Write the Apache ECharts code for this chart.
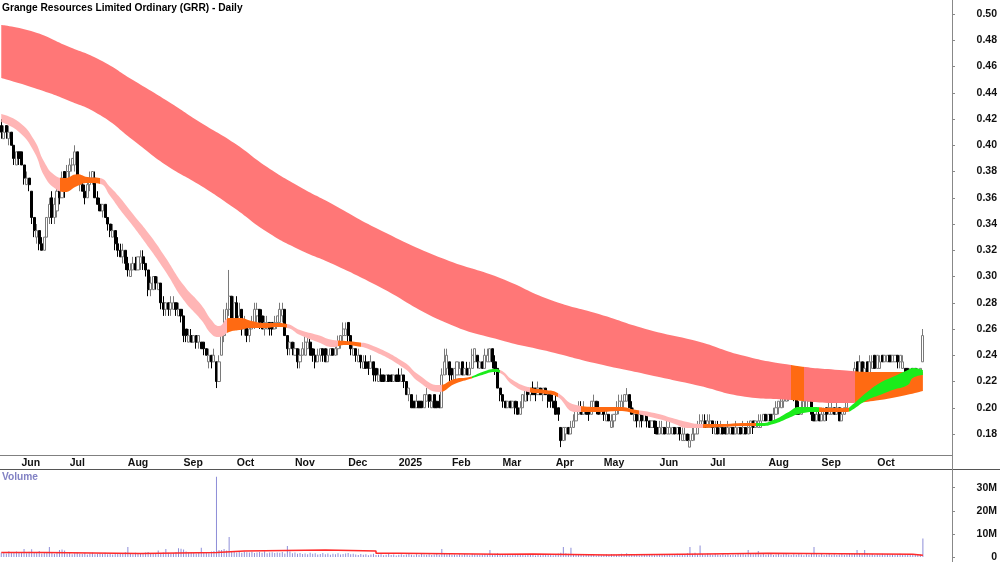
<!DOCTYPE html>
<html>
<head>
<meta charset="utf-8">
<title>Grange Resources Limited Ordinary (GRR) - Daily</title>
<script src="https://cdn.jsdelivr.net/npm/echarts@6/dist/echarts.min.js"></script>
<style>
  html, body { margin: 0; padding: 0; background: #fff; }
  #chart { width: 1000px; height: 562px; }
</style>
</head>
<body>
<div id="chart"></div>
<script>
// daily bars, prices in tenths of a cent (415 -> 0.415)
const opens = [
  415,405,415,405,410,400,385,395,395,385, 370,375,365,345,330,335,325,320,330,345,
  360,345,350,370,360,380,370,380,385,385, 395,370,370,365,360,370,375,375,360,355,
  350,355,345,340,330,335,325,320,315,320, 310,300,305,310,305,310,315,310,305,290,
  290,300,290,295,280,275,280,275,275,280, 270,275,270,260,250,255,250,255,250,250,
  250,245,235,240,235,235,220,240,255,265, 275,285,265,280,265,275,260,265,255,260,
  265,270,275,270,260,260,265,265,260,265, 265,270,275,255,245,250,240,245,235,240,
  240,245,250,245,240,235,240,245,245,235, 240,245,240,245,250,255,255,265,255,240,
  245,235,240,230,235,235,230,235,230,220, 225,225,220,225,225,220,225,225,220,225,
  220,210,210,205,200,205,205,200,205,210, 200,210,205,205,200,225,230,235,230,220,
  225,225,235,225,230,225,230,235,240,230, 235,230,235,235,245,235,230,215,210,205,
  200,205,200,205,200,195,200,205,215,210, 215,215,210,215,210,215,210,210,205,205,
  200,185,175,180,185,180,185,190,195,200, 195,200,200,195,200,205,200,195,200,190,
  195,185,190,195,200,200,205,205,210,200, 190,195,190,195,190,195,190,185,190,185,
  180,180,185,180,180,180,185,180,185,175, 175,180,170,175,180,180,185,185,190,185,
  185,190,180,185,180,185,185,180,180,185, 180,180,185,180,185,180,185,190,185,185,
  185,190,195,190,195,190,195,200,200,205, 205,210,210,215,210,200,195,200,200,205,
  210,195,190,195,190,190,200,195,195,200, 195,200,190,195,200,205,210,220,235,225,
  235,225,235,225,230,240,230,230,240,235, 235,240,235,235,240,235,230,230,230,220,
  230,230,220,225,235
];
const highs = [
  420,415,415,415,410,400,395,395,395,385, 380,375,365,345,340,335,330,330,345,360,
  365,360,370,375,380,380,385,390,390,400, 395,375,375,370,375,380,380,380,365,360,
  355,355,345,340,340,335,330,325,325,320, 315,310,315,315,315,320,320,310,305,300,
  300,300,300,295,285,280,280,285,285,280, 280,275,270,260,260,260,255,255,255,250,
  250,245,245,240,245,235,240,255,275,280, 305,285,285,285,280,275,270,265,265,270,
  280,280,275,275,270,270,265,265,270,270, 280,280,275,255,250,250,250,245,245,250,
  255,255,255,245,245,245,245,245,245,245, 245,245,250,255,255,265,265,265,255,250,
  245,245,240,240,240,235,240,235,230,230, 230,225,225,225,225,225,225,230,230,225,
  220,215,210,205,210,205,205,210,215,210, 210,210,205,210,230,245,245,235,230,230,
  235,235,235,230,235,235,245,245,240,235, 235,245,245,245,245,240,230,215,210,205,
  205,205,205,205,205,205,210,215,215,215, 220,215,220,215,215,215,210,210,210,210,
  200,185,185,185,185,190,195,200,205,205, 205,200,200,205,210,205,205,200,200,200,
  195,195,195,205,210,210,210,215,210,205, 200,195,195,195,195,195,190,190,190,190,
  190,190,185,190,190,185,185,185,185,185, 185,180,180,185,185,190,195,195,195,195,
  195,190,190,190,190,185,185,190,185,185, 190,185,185,190,185,190,190,190,190,195,
  195,195,195,195,195,200,205,205,210,210, 215,215,220,215,215,205,205,205,215,215,
  210,200,200,200,200,200,200,205,205,200, 205,200,200,200,210,215,225,235,235,240,
  235,235,235,240,240,240,240,240,240,240, 240,240,240,240,240,240,240,230,230,230,
  230,230,230,230,260
];
const lows = [
  405,405,405,400,400,385,385,385,385,370, 370,365,340,330,325,320,320,320,330,340,
  340,340,345,355,360,360,365,375,380,380, 370,365,365,355,360,365,370,360,355,350,
  345,345,335,330,330,320,315,315,310,305, 300,300,305,305,305,305,305,300,285,285,
  290,290,290,275,270,270,270,270,275,270, 270,265,250,250,250,250,250,245,245,245,
  240,240,230,230,235,215,220,240,250,260, 270,260,265,260,260,255,255,250,250,260,
  260,265,260,260,255,260,255,255,260,260, 265,265,255,240,240,240,240,230,230,240,
  240,245,240,235,230,235,235,235,235,235, 240,240,240,240,245,250,255,250,240,240,
  235,235,230,230,230,225,230,220,220,220, 220,220,220,220,220,220,220,220,220,215,
  210,205,200,200,200,200,200,200,205,200, 200,200,200,200,200,225,225,220,220,220,
  225,225,225,225,225,225,230,235,230,230, 230,230,235,235,230,225,215,205,200,200,
  200,200,200,195,195,195,200,205,205,205, 210,205,210,210,205,210,200,200,200,195,
  190,170,175,175,180,180,185,190,195,195, 195,195,190,195,200,195,195,195,190,190,
  190,185,185,195,195,200,200,205,200,195, 190,185,185,185,190,185,185,185,180,180,
  180,180,180,180,180,180,180,180,175,175, 175,175,170,175,175,180,185,185,185,185,
  185,180,180,180,180,180,180,180,180,180, 180,180,180,180,180,180,180,180,185,185,
  185,190,190,190,190,190,195,195,200,200, 205,205,210,205,195,195,195,200,200,205,
  190,190,190,190,190,190,190,195,195,195, 195,190,190,195,200,205,205,215,220,225,
  220,220,225,225,230,230,230,230,235,235, 235,235,235,235,230,230,230,220,220,220,
  220,220,220,220,235
];
const closes = [
  410,410,410,410,400,390,395,390,385,375, 375,370,345,335,335,325,320,330,345,355,
  345,355,365,360,375,365,380,385,390,395, 375,375,365,360,370,375,380,360,355,350,
  355,345,340,335,335,325,320,315,320,310, 305,305,310,305,315,315,310,305,290,295,
  300,295,295,280,275,280,275,280,280,275, 275,270,255,255,255,250,255,250,255,245,
  245,240,240,235,240,220,235,255,265,275, 285,265,280,265,270,260,265,255,260,265,
  275,275,265,260,265,265,260,260,265,270, 275,275,255,245,250,245,245,235,240,245,
  250,250,240,240,235,240,245,240,235,240, 245,240,245,250,255,260,260,255,245,245,
  240,240,235,235,230,230,235,225,225,225, 220,220,225,220,220,225,220,220,225,220,
  210,215,200,200,205,200,200,210,210,205, 205,200,200,200,225,235,240,225,225,230,
  235,230,225,230,225,230,240,245,235,235, 230,240,240,245,235,230,215,210,205,200,
  205,200,205,200,195,200,210,215,210,215, 210,210,215,210,215,210,205,205,200,195,
  195,175,185,185,180,185,190,200,200,195, 200,195,195,205,205,200,195,200,195,195,
  190,190,195,200,205,205,210,210,200,195, 195,190,195,190,195,190,185,190,185,180,
  185,185,180,185,185,185,180,185,180,180, 180,175,175,180,185,185,190,190,185,190,
  190,185,185,180,185,180,180,185,185,180, 185,185,180,185,180,185,190,185,190,190,
  190,195,190,195,190,195,200,205,205,210, 210,215,215,210,195,195,200,205,210,215,
  195,190,195,190,195,195,195,200,200,195, 200,190,195,200,205,210,220,230,225,235,
  225,230,225,235,235,230,240,235,235,240, 240,235,240,240,235,240,235,220,225,225,
  220,225,225,230,255
];
// daily volume in units of 100,000 shares
const volumes = [
  18,22,15,25,20,17,24,19,21,35, 16,23,34,20,18,26,15,19,22,43,
  17,14,19,30,32,28,15,18,12,16, 20,14,13,17,11,15,19,12,14,16,
  13,18,12,15,11,14,17,13,16,21, 43,15,12,18,14,13,16,19,22,15,
  17,14,28,16,20,35,18,14,17,21, 38,36,32,24,19,22,17,15,20,40,
  18,21,16,24,26,347,30,30,35,28, 87,25,22,20,26,18,24,21,19,23,
  17,20,22,18,25,16,19,21,17,20, 18,22,15,48,24,16,19,14,17,13,
  15,12,18,14,16,11,13,17,12,15, 10,14,12,16,11,13,15,17,12,14,
  11,9,13,10,12,8,11,14,9,10, 12,8,10,13,9,11,7,10,12,9,
  11,13,10,8,12,9,14,11,10,12, 9,11,13,10,35,16,12,14,10,11,
  9,12,10,13,11,8,14,12,10,9, 11,13,10,30,12,14,16,11,9,10,
  12,8,10,11,9,13,10,8,11,12, 9,7,10,8,11,9,12,10,8,13,
  15,18,43,16,14,40,12,10,11,9, 8,10,12,9,11,7,10,8,9,12,
  10,13,11,9,12,14,10,16,11,9, 12,10,8,11,9,13,10,12,8,10,
  11,9,13,10,12,8,10,14,11,9, 12,16,43,14,18,12,50,13,11,15,
  12,10,14,11,9,13,10,12,9,11, 10,13,12,14,11,30,15,12,14,26,
  11,13,10,12,15,9,11,13,10,12, 14,11,9,12,10,13,11,8,12,10,
  14,43,12,10,13,9,11,14,10,12, 9,11,13,10,12,14,16,13,30,15,
  12,30,14,11,13,9,12,10,14,11, 13,10,12,9,11,14,10,13,11,12,
  9,11,10,12,80
];

// volume average (millions), held from each bar index to the next
const volAvgIdx = [0, 17, 55, 85, 96, 128, 148, 157, 197, 210, 240, 278, 303, 360, 364];
const volAvgVal = [2.0, 1.5, 1.9, 2.6, 3.0, 2.6, 1.6, 1.2, 1.3, 0.9, 1.3, 1.6, 1.2, 0.8, 0.8];

// long-term average band
const longIdx = [0, 13, 26, 39, 52, 65, 79, 92, 105, 118, 130, 148, 175, 197, 217, 236, 256, 276, 292, 312, 331, 347, 364];
const longUpper = [0.4916, 0.4863, 0.4756, 0.4650, 0.4497, 0.4345, 0.4170, 0.4017, 0.3834, 0.3682, 0.3560, 0.3370,
  0.3133, 0.2989, 0.2821, 0.2714, 0.2592, 0.2501, 0.2402, 0.2326, 0.2288, 0.2272, 0.2272];
const longLower = [0.4512, 0.4436, 0.4345, 0.4230, 0.4040, 0.3850, 0.3690, 0.3522, 0.3339, 0.3202, 0.3103, 0.2935,
  0.2653, 0.2516, 0.2425, 0.2333, 0.2250, 0.2166, 0.2090, 0.2059, 0.2036, 0.2059, 0.2128];

// short-term average band
const shortIdx = [0, 7, 13, 17, 21, 25, 30, 34, 39, 43, 47, 52, 59, 65, 72, 79, 83, 86, 90, 94,
  99, 104, 109, 113, 118, 125, 131, 136, 140, 146, 159, 165, 173, 179, 185, 190, 195, 197, 202, 208,
  215, 219, 227, 236, 244, 251, 258, 265, 271, 276, 284, 294, 300, 305, 311, 315, 321, 327, 334, 336,
  342, 347, 352, 358, 360, 364];
const shortUpper = [0.4238, 0.4177, 0.4040, 0.3872, 0.3773, 0.3750, 0.3780, 0.3758, 0.3750, 0.3682,
  0.3598, 0.3476, 0.3309, 0.3141, 0.2935, 0.2783, 0.2669, 0.2623, 0.2684, 0.2684,
  0.2661, 0.2646, 0.2646, 0.2638, 0.2592, 0.2554, 0.2516, 0.2509, 0.2501, 0.2478,
  0.2349, 0.2250, 0.2173, 0.2219, 0.2234, 0.2272, 0.2295, 0.2288, 0.2211, 0.2158,
  0.2135, 0.2120, 0.2021, 0.2006, 0.2006, 0.1983, 0.1960, 0.1922, 0.1891, 0.1876,
  0.1876, 0.1884, 0.1884, 0.1907, 0.1968, 0.2006, 0.2006, 0.1998, 0.1998, 0.2021,
  0.2120, 0.2189, 0.2234, 0.2288, 0.2303, 0.2288];
const shortLower = [0.4177, 0.4101, 0.3949, 0.3766, 0.3674, 0.3644, 0.3690, 0.3712, 0.3705, 0.3613,
  0.3507, 0.3385, 0.3202, 0.3034, 0.2821, 0.2669, 0.2562, 0.2539, 0.2577, 0.2592,
  0.2608, 0.2608, 0.2615, 0.2608, 0.2554, 0.2501, 0.2463, 0.2478, 0.2470, 0.2440,
  0.2303, 0.2196, 0.2120, 0.2181, 0.2219, 0.2250, 0.2272, 0.2265, 0.2173, 0.2120,
  0.2105, 0.2090, 0.1968, 0.1968, 0.1975, 0.1952, 0.1922, 0.1884, 0.1846, 0.1846,
  0.1853, 0.1861, 0.1861, 0.1876, 0.1922, 0.1952, 0.1968, 0.1968, 0.1968, 0.1983,
  0.2059, 0.2097, 0.2135, 0.2173, 0.2227, 0.2250];

// colour runs along each band: [from bar, to bar, colour]
const longRuns = [[312, 317, 'orange'], [337, 376, 'orange']];
const shortRuns = [[23, 39, 'orange'], [89, 113, 'orange'], [133, 142, 'orange'], [174, 186, 'orange'],
  [186, 197, 'green'], [209, 220, 'orange'], [229, 252, 'orange'], [277, 298, 'orange'],
  [298, 323, 'green'], [323, 335, 'orange'], [335, 376, 'green']];

const priceTicks = [0.18, 0.20, 0.22, 0.24, 0.26, 0.28, 0.30, 0.32, 0.34, 0.36, 0.38, 0.40, 0.42, 0.44, 0.46, 0.48, 0.50];
const volumeTicks = [0, 10e6, 20e6, 30e6];
const holidays = ['2024-06-10', '2024-12-25', '2024-12-26', '2025-01-01', '2025-01-27',
  '2025-04-18', '2025-04-21', '2025-04-25', '2025-06-09'];
const monthNames = ['Jan', 'Feb', 'Mar', 'Apr', 'May', 'Jun', 'Jul', 'Aug', 'Sep', 'Oct', 'Nov', 'Dec'];

const colours = {
  red: '#ff7777', pink: '#ffb5b5', orange: '#ff6a12', green: '#1bec1b'
};
const FONT = '"Liberation Sans", Arial, sans-serif';

// trading days from the first bar, plus some empty slots on the right
function tradingDays (start, count) {
  const out = [];
  const d = new Date(start + 'T00:00:00Z');
  while (out.length < count) {
    const wd = d.getUTCDay();
    const s = d.toISOString().slice(0, 10);
    if (wd !== 0 && wd !== 6 && holidays.indexOf(s) < 0) out.push(s);
    d.setUTCDate(d.getUTCDate() + 1);
  }
  return out;
}
const dates = tradingDays('2024-05-22', 376);

function monthStart (i) {
  return i > 0 && i < closes.length && dates[i].slice(5, 7) !== dates[i - 1].slice(5, 7);
}
function monthLabel (v) {
  const m = +v.slice(5, 7);
  return m === 1 ? v.slice(0, 4) : monthNames[m - 1];
}

const candles = closes.map((c, i) => [opens[i] / 1000, c / 1000, lows[i] / 1000, highs[i] / 1000]);
const volData = volumes.map(v => v * 1e5);
const volAvg = volAvgIdx.map((x, i) => [x, volAvgVal[i] * 1e6]);

function bandSeries (name, idx, upper, lower) {
  return [
    {
      name: name + '-base', type: 'line', stack: name, smooth: 0.5, symbol: 'none',
      data: idx.map((x, i) => [x, lower[i]]),
      lineStyle: { opacity: 0, width: 0 }, silent: true
    },
    {
      name: name, type: 'line', stack: name, smooth: 0.5, symbol: 'none',
      data: idx.map((x, i) => [x, upper[i] - lower[i]]),
      lineStyle: { width: 0 }, areaStyle: { opacity: 1 }, silent: true
    }
  ];
}
function runPieces (runs) {
  return runs.map(r => ({ gte: r[0], lt: r[1], color: colours[r[2]] }));
}

const chart = echarts.init(document.getElementById('chart'), null, { renderer: 'canvas' });

chart.setOption({
  animation: false,
  backgroundColor: '#fff',
  title: {
    text: 'Grange Resources Limited Ordinary (GRR) - Daily',
    left: 2, top: 3, padding: 0,
    textStyle: { fontSize: 10.2, fontWeight: 'bold', color: '#000', fontFamily: FONT }
  },
  graphic: [
    {
      type: 'text', left: 2, top: 472,
      style: { text: 'Volume', fill: '#8282c4', font: 'bold 10.2px ' + FONT }
    },
    {
      type: 'line', shape: { x1: 0, y1: 469.5, x2: 1000, y2: 469.5 },
      style: { stroke: '#555', lineWidth: 1 }
    },
    {
      type: 'line', shape: { x1: 952.5, y1: 0, x2: 952.5, y2: 562 },
      style: { stroke: '#888', lineWidth: 1 }
    }
  ],
  grid: [
    { left: 0, right: 48, top: 0, bottom: 107, outerBoundsMode: 'none' },
    { left: 0, right: 48, top: 470, bottom: 5, outerBoundsMode: 'none' }
  ],
  xAxis: [
    {
      type: 'category', gridIndex: 0, data: dates, boundaryGap: true,
      axisLine: { lineStyle: { color: '#808080', width: 1 } },
      axisTick: { interval: (i) => monthStart(i), length: 3, lineStyle: { color: '#808080' } },
      axisLabel: {
        interval: (i) => monthStart(i), formatter: monthLabel, align: 'left', margin: 3,
        fontSize: 10.5, fontWeight: 'bold', color: '#111', fontFamily: FONT
      },
      splitLine: { show: false }
    },
    {
      type: 'category', gridIndex: 1, data: dates, boundaryGap: true,
      axisLine: { show: false }, axisTick: { show: false }, axisLabel: { show: false },
      splitLine: { show: false }
    }
  ],
  yAxis: [
    {
      type: 'value', gridIndex: 0, position: 'right', min: 0.164, max: 0.5107, scale: true,
      axisLine: { show: true, lineStyle: { color: '#888' } },
      axisTick: { show: true, customValues: priceTicks, length: 3, lineStyle: { color: '#888' } },
      axisLabel: {
        customValues: priceTicks, formatter: v => v.toFixed(2), align: 'right', margin: 45,
        fontSize: 10.5, fontWeight: 'bold', color: '#111', fontFamily: FONT
      },
      splitLine: { show: false }
    },
    {
      type: 'value', gridIndex: 1, position: 'right', min: 0, max: 37.66e6,
      axisLine: { show: true, lineStyle: { color: '#888' } },
      axisTick: { show: true, customValues: volumeTicks, length: 3, lineStyle: { color: '#888' } },
      axisLabel: {
        customValues: volumeTicks, formatter: v => v === 0 ? '0' : (v / 1e6) + 'M', align: 'right', margin: 45,
        fontSize: 10.5, fontWeight: 'bold', color: '#111', fontFamily: FONT
      },
      splitLine: { show: false }
    }
  ],
  visualMap: [
    { type: 'piecewise', show: false, seriesIndex: 1, dimension: 0,
      pieces: runPieces(longRuns), outOfRange: { color: colours.red } },
    { type: 'piecewise', show: false, seriesIndex: 3, dimension: 0,
      pieces: runPieces(shortRuns), outOfRange: { color: colours.pink } }
  ],
  series: [
    ...bandSeries('long', longIdx, longUpper, longLower),
    ...bandSeries('short', shortIdx, shortUpper, shortLower),
    {
      name: 'GRR', type: 'candlestick', xAxisIndex: 0, yAxisIndex: 0,
      data: candles, barWidth: 2.6,
      itemStyle: {
        color: '#ffffff', borderColor: '#7a7a7a',
        color0: '#000000', borderColor0: '#000000',
        borderColorDoji: '#7a7a7a', borderWidth: 1
      }
    },
    {
      name: 'Volume', type: 'bar', xAxisIndex: 1, yAxisIndex: 1,
      data: volData, barWidth: 1, itemStyle: { color: '#8e8ed8' }, silent: true
    },
    {
      name: 'Volume avg', type: 'line', xAxisIndex: 1, yAxisIndex: 1, step: 'end',
      data: volAvg, symbol: 'none', lineStyle: { color: '#ff2a2a', width: 1.5 }, silent: true
    }
  ]
});
</script>
</body>
</html>
